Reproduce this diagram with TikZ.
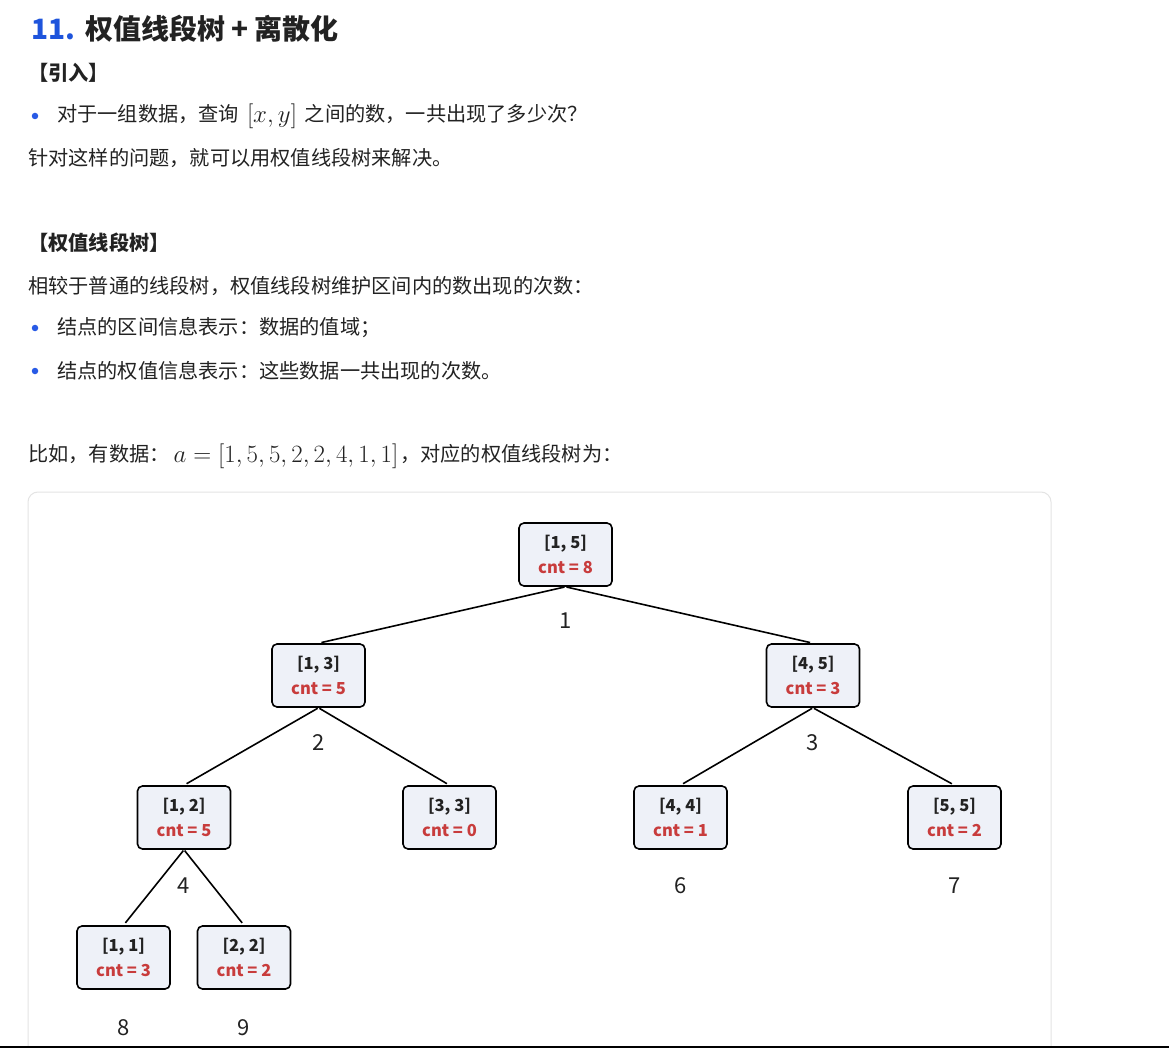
\documentclass[tikz,border=0pt]{standalone}
\usepackage{graphicx}
\usepackage[no-math]{fontspec}
\setmainfont{Noto Sans CJK SC}
\definecolor{titleblue}{RGB}{30,84,220}
\definecolor{bulletblue}{RGB}{40,90,230}
\definecolor{txtgray}{RGB}{34,34,34}
\definecolor{cntred}{RGB}{200,60,60}
\definecolor{boxfill}{RGB}{238,241,248}
\definecolor{panelgray}{RGB}{228,228,228}
\tikzset{
  txt/.style={anchor=west, inner sep=0pt, text=txtgray, font=\fontsize{20.2}{24}\selectfont},
  bul/.style={circle, fill=bulletblue, inner sep=0pt, minimum size=6.5pt},
  tnode/.style={draw=black, line width=1.6pt, rounded corners=5pt, fill=boxfill,
    minimum width=93pt, minimum height=63pt, inner sep=0pt, align=center,
    font=\fontsize{16.5}{25}\selectfont\bfseries, text=txtgray},
  edge/.style={line width=1.6pt, black, shorten >=3pt, shorten <=1pt},
  num/.style={inner sep=0pt, font=\fontsize{22}{24}\selectfont, text=txtgray}
}
\newcommand{\cntx}[1]{\textcolor{cntred}{cnt = #1}}
\newcommand{\mymath}[1]{\raisebox{-0.5pt}{\scalebox{1.2}{$#1$}}}
\begin{document}
\begin{tikzpicture}[x=1pt,y=-1pt]
\useasboundingbox (0,0) rectangle (1169,1048);
\fill[white] (0,0) rectangle (1169,1048);
% text
\node[txt, font=\fontsize{28}{30}\selectfont\bfseries] (title) at (31,29) {\textcolor{titleblue}{11.}\hspace{10pt}权值线段树 + 离散化};
\node[txt, font=\fontsize{20.2}{24}\selectfont\bfseries] (intro) at (28,73) {【引入】};
\node[bul] (b1) at (35,116) {};
\node[txt] (l1) at (57,116) {对于一组数据，查询\hspace{8pt}\mymath{[x,y]}\hspace{8pt}之间的数，一共出现了多少次？};
\node[txt] (l2) at (28,158) {针对这样的问题，就可以用权值线段树来解决。};
\node[txt, font=\fontsize{20.2}{24}\selectfont\bfseries] (sec) at (28,243) {【权值线段树】};
\node[txt] (l3) at (28,286) {相较于普通的线段树，权值线段树维护区间内的数出现的次数：};
\node[bul] (b2) at (35,328) {};
\node[txt] (l4) at (57,328) {结点的区间信息表示：数据的值域；};
\node[bul] (b3) at (35,371) {};
\node[txt] (l5) at (57,371) {结点的权值信息表示：这些数据一共出现的次数。};
\node[txt] (l6) at (28,456) {比如，有数据：\hspace{4pt}\mymath{a=[1,5,5,2,2,4,1,1]}\hspace{2pt}，对应的权值线段树为：};
% panel
\draw[panelgray, line width=1pt, rounded corners=10pt] (28,1070) -- (28,492) -- (1051,492) -- (1051,1070);
% tree
\node[tnode] (n1) at (565.5,554.5) {[1, 5]\\\cntx{8}};
\node[tnode] (n2) at (318.5,675.5) {[1, 3]\\\cntx{5}};
\node[tnode] (n3) at (813,675.5) {[4, 5]\\\cntx{3}};
\node[tnode] (n4) at (184,817.5) {[1, 2]\\\cntx{5}};
\node[tnode] (n5) at (449.5,817.5) {[3, 3]\\\cntx{0}};
\node[tnode] (n6) at (680.5,817.5) {[4, 4]\\\cntx{1}};
\node[tnode] (n7) at (954.5,817.5) {[5, 5]\\\cntx{2}};
\node[tnode] (n8) at (123.5,957.5) {[1, 1]\\\cntx{3}};
\node[tnode] (n9) at (244,957.5) {[2, 2]\\\cntx{2}};
\draw[edge] (n1.south) -- (n2.north);
\draw[edge] (n1.south) -- (n3.north);
\draw[edge] (n2.south) -- (n4.north);
\draw[edge] (n2.south) -- (n5.north);
\draw[edge] (n3.south) -- (n6.north);
\draw[edge] (n3.south) -- (n7.north);
\draw[edge] (n4.south) -- (n8.north);
\draw[edge] (n4.south) -- (n9.north);
\node[num] (k1) at (565.5,621) {1};
\node[num] (k2) at (318.5,743) {2};
\node[num] (k3) at (813,743) {3};
\node[num] (k4) at (184,886) {4};
\node[num] (k6) at (680.5,886) {6};
\node[num] (k7) at (954.5,886) {7};
\node[num] (k8) at (123.5,1028) {8};
\node[num] (k9) at (244,1028) {9};
% bottom edge line
\draw[black, line width=2pt] (0,1047) -- (1169,1047);
\end{tikzpicture}
\end{document}
